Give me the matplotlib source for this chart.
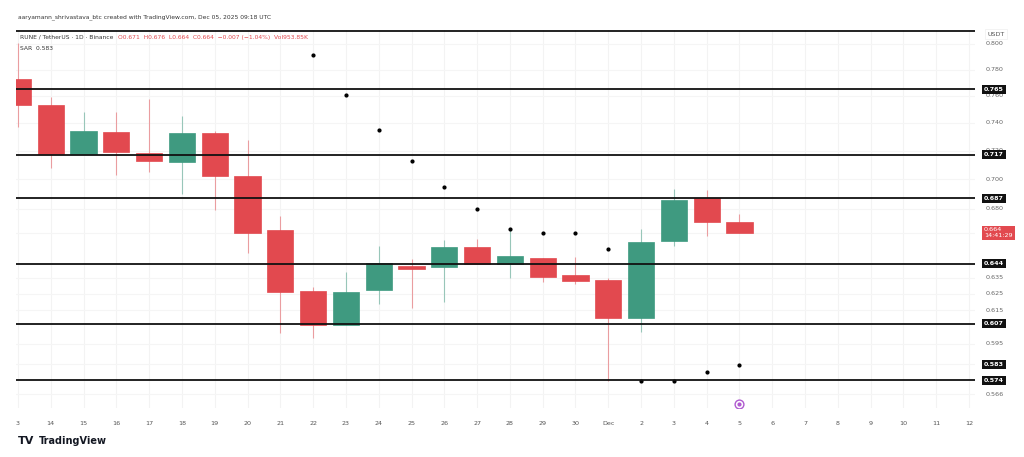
import numpy as np
import matplotlib
matplotlib.use("Agg")
import matplotlib.pyplot as plt
from matplotlib.ticker import NullLocator, NullFormatter

# RUNE/USDT daily candles, Nov 13 - Dec 5 2025
opens = [0.7726, 0.753, 0.7175, 0.733, 0.718, 0.712, 0.7325, 0.702, 0.6656, 0.6269, 0.6062, 0.6275,
         0.6425, 0.6419, 0.6546, 0.6437, 0.6476, 0.6368, 0.6337, 0.6104, 0.6585, 0.687, 0.6709]
highs = [0.801, 0.759, 0.748, 0.748, 0.758, 0.745, 0.734, 0.7275, 0.6749, 0.6294, 0.6387, 0.6552,
         0.6469, 0.6591, 0.6598, 0.6663, 0.6476, 0.6482, 0.635, 0.6663, 0.6931, 0.6924, 0.6762]
lows = [0.737, 0.708, 0.7175, 0.703, 0.705, 0.690, 0.679, 0.651, 0.6015, 0.5985, 0.6062, 0.6189,
        0.6165, 0.6201, 0.6437, 0.635, 0.6325, 0.6312, 0.5738, 0.6021, 0.6552, 0.6617, 0.6637]
closes = [0.753, 0.7175, 0.734, 0.719, 0.713, 0.7325, 0.702, 0.664, 0.6263, 0.6062, 0.6263, 0.6444,
          0.6406, 0.6546, 0.6437, 0.6488, 0.6356, 0.6331, 0.6104, 0.6578, 0.6856, 0.6709, 0.664]

# Parabolic SAR dots (start on Nov 22 = index 9)
sar_start = 9
sar = [0.791, 0.7605, 0.7346, 0.7125, 0.6945, 0.6795, 0.6663, 0.6637, 0.6637, 0.6533,
       0.5733, 0.5733, 0.5784, 0.5829]

levels = [0.765, 0.717, 0.687, 0.644, 0.607, 0.574]
day_labels = ["3", "14", "15", "16", "17", "18", "19", "20", "21", "22", "23", "24", "25", "26",
              "27", "28", "29", "30", "Dec", "2", "3", "4", "5", "6", "7", "8", "9", "10", "11", "12"]
price_ticks = [0.800, 0.780, 0.760, 0.740, 0.720, 0.700, 0.680, 0.635, 0.625, 0.615, 0.595, 0.566]

green = "#3f9a80"
red = "#e2494f"
ymin, ymax = 0.5584, 0.8109

fig = plt.figure(figsize=(10.24, 4.57), dpi=100)
ax = fig.add_axes([0.0156, 0.107, 0.9365, 0.827])
ax.set_yscale("log")
ax.set_ylim(ymin, ymax)
ax.set_xlim(-0.06, 29.18)

# faint grid
for i in range(len(day_labels)):
    ax.axvline(i, color="#f3f3f3", lw=0.8, zorder=0)
for t in price_ticks + [0.664, 0.583, 0.765, 0.717, 0.687, 0.644, 0.607, 0.574]:
    ax.axhline(t, color="#f5f5f5", lw=0.8, zorder=0)

# candles
w = 0.8
for i, (o, h, l, c) in enumerate(zip(opens, highs, lows, closes)):
    col = green if c >= o else red
    ax.vlines(i, l, h, color=col, lw=0.8, alpha=0.5, zorder=2)
    ax.bar(i, abs(c - o) if abs(c - o) > 0.0005 else 0.0008, bottom=min(o, c), width=w,
           color=col, edgecolor=col, lw=0.5, zorder=3)

# SAR
ax.scatter(np.arange(sar_start, sar_start + len(sar)), sar, s=4, color="black", zorder=4)

# horizontal levels
for lv in levels:
    ax.axhline(lv, color="#111111", lw=1.3, zorder=5)
ax.axhline(ymax * 0.9995, color="#111111", lw=1.3, zorder=5)

# event icon on Dec 5
ax.scatter([22], [0.5605], s=40, facecolor="white", edgecolor="#b05ad0", lw=1.0, zorder=6)
ax.scatter([22], [0.5605], s=4, color="#b05ad0", zorder=7)

ax.yaxis.set_major_locator(NullLocator())
ax.yaxis.set_minor_locator(NullLocator())
ax.yaxis.set_minor_formatter(NullFormatter())
ax.set_xticks(range(len(day_labels)))
ax.set_xticklabels(day_labels, fontsize=4.6, color="#555555")
ax.tick_params(axis="x", length=0, pad=9)
for s in ax.spines.values():
    s.set_visible(False)

# price axis labels (right side)
trans = ax.get_yaxis_transform()
for t in price_ticks:
    ax.text(1.0115, t, f"{t:.3f}", transform=trans, fontsize=4.6, color="#666666",
            va="center", ha="left", clip_on=False)
for lv in levels + [0.583]:
    ax.text(1.0095, lv, f"{lv:.3f}", transform=trans, fontsize=4.6, color="white",
            fontweight="bold", va="center", ha="left", clip_on=False,
            bbox=dict(boxstyle="square,pad=0.3", fc="#111111", ec="none"))
ax.text(1.0095, 0.664, "0.664\n14:41:29", transform=trans, fontsize=4.6, color="white",
        va="center", ha="left", clip_on=False, linespacing=1.1,
        bbox=dict(boxstyle="square,pad=0.3", fc="#e2494f", ec="none"))
ax.text(1.013, 0.8075, "USDT", transform=trans, fontsize=4.6, color="#555555",
        va="center", ha="left", clip_on=False,
        bbox=dict(boxstyle="square,pad=0.4", fc="white", ec="#eeeeee", lw=0.5))

# header
fig.text(0.0176, 0.963, "aaryamann_shrivastava_btc created with TradingView.com, Dec 05, 2025 09:18 UTC",
         fontsize=4.3, color="#333333", va="center")
fig.text(0.0195, 0.918, "RUNE / TetherUS · 1D · Binance", fontsize=4.3, color="#333333", va="center")
fig.text(0.1155, 0.918, "O0.671  H0.676  L0.664  C0.664  −0.007 (−1.04%)  Vol953.85K",
         fontsize=4.3, color="#e2494f", va="center")
fig.text(0.0195, 0.893, "SAR  0.583", fontsize=4.3, color="#333333", va="center")

# watermark
fig.text(0.0176, 0.034, "TV", fontsize=8, fontweight="bold", color="#131722", va="center")
fig.text(0.038, 0.034, "TradingView", fontsize=7, fontweight="bold", color="#131722", va="center")

fig.savefig("out.png", dpi=100, facecolor="white")
